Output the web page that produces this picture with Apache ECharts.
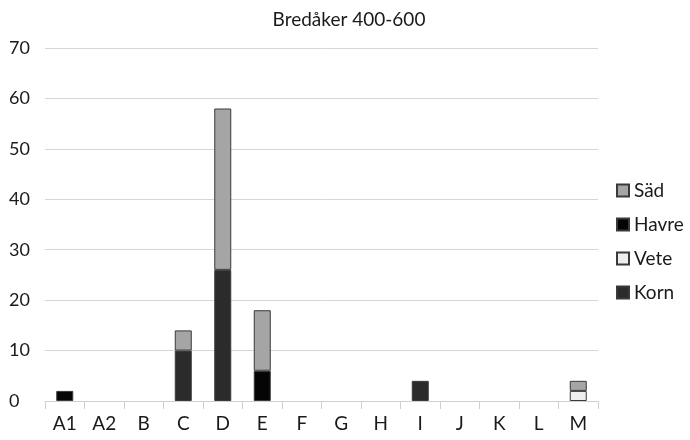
<!DOCTYPE html>
<html style="height: 100%">
<head>
    <meta charset="utf-8">
    <script src="https://cdn.jsdelivr.net/npm/echarts@6/dist/echarts.min.js"></script>
</head>
<body style="height:100%;margin:0;background:#fff">
    <div id="main" style="width:690px;height:440px;"></div>
    <script type="text/javascript">
        var categories = ['A1', 'A2', 'B', 'C', 'D', 'E', 'F', 'G', 'H', 'I', 'J', 'K', 'L', 'M'];
        var korn  = [0, 0, 0, 10, 26, 0, 0, 0, 0, 4, 0, 0, 0, 0];
        var vete  = [0, 0, 0, 0, 0, 0, 0, 0, 0, 0, 0, 0, 0, 2];
        var havre = [2, 0, 0, 0, 0, 6, 0, 0, 0, 0, 0, 0, 0, 0];
        var sad   = [0, 0, 0, 4, 32, 12, 0, 0, 0, 0, 0, 0, 0, 2];

        var font = "Lato, 'Open Sans', sans-serif";

        function bar(name, data, color) {
            return {
                name: name,
                type: 'bar',
                stack: 'total',
                barWidth: 17,
                data: data.map(function (v) { return v === 0 ? null : v; }),
                itemStyle: { color: color, borderColor: '#3a3a3a', borderWidth: 1 }
            };
        }

        var myChart = echarts.init(document.getElementById('main'));
        var option = {
            animation: false,
            title: {
                text: 'Bredåker 400-600',
                left: 344,
                textAlign: 'center',
                top: 5,
                textStyle: { fontFamily: font, fontSize: 19, fontWeight: 'normal', color: '#1a1a1a' }
            },
            legend: {
                orient: 'vertical',
                left: 611,
                top: 176,
                itemGap: 15,
                itemWidth: 12,
                itemHeight: 12,
                icon: 'rect',
                data: ['Säd', 'Havre', 'Vete', 'Korn'],
                textStyle: { fontFamily: font, fontSize: 19, color: '#1a1a1a' }
            },
            grid: { left: 45, right: 92, top: 48, bottom: 39 },
            xAxis: {
                type: 'category',
                data: categories,
                axisLine: { lineStyle: { color: '#cfcfcf' } },
                axisTick: { show: true, length: 8, lineStyle: { color: '#cfcfcf' } },
                axisLabel: { fontFamily: font, fontSize: 19, color: '#1a1a1a', margin: 13 }
            },
            yAxis: {
                type: 'value',
                min: 0,
                max: 70,
                interval: 10,
                axisLine: { show: false },
                axisTick: { show: false },
                splitLine: { lineStyle: { color: '#d6d6d6' } },
                axisLabel: { fontFamily: font, fontSize: 18, color: '#1a1a1a', align: 'left', margin: 36 }
            },
            series: [
                bar('Korn', korn, '#2b2b2b'),
                bar('Vete', vete, '#eeeeee'),
                bar('Havre', havre, '#050505'),
                bar('Säd', sad, '#a5a5a5')
            ]
        };
        myChart.setOption(option);
    </script>
</body>
</html>
